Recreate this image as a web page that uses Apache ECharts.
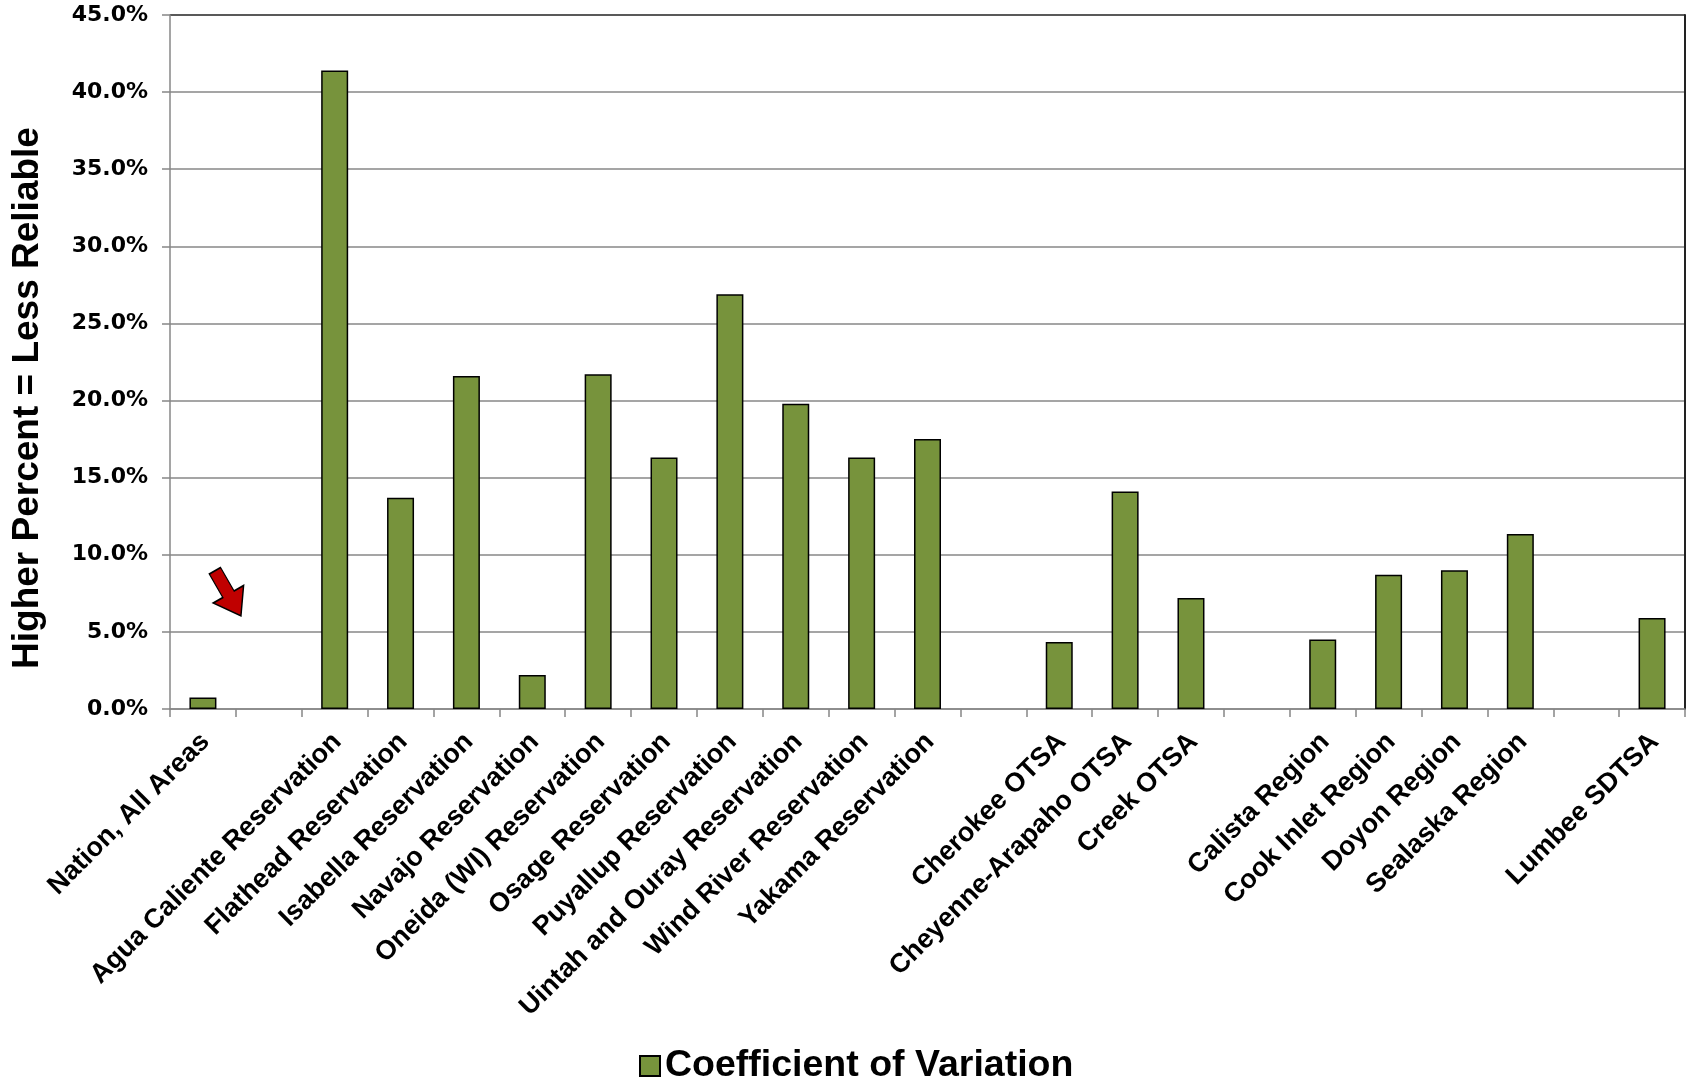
<!DOCTYPE html>
<html>
<head>
<meta charset="utf-8">
<title>Coefficient of Variation</title>
<script src="https://cdn.jsdelivr.net/npm/echarts@6/dist/echarts.min.js"></script>
<style>
  html, body { margin: 0; padding: 0; background: #ffffff; }
  #chart { width: 1690px; height: 1081px; }
</style>
</head>
<body>
<div id="chart"></div>
<script>
// Geographic areas; empty strings are spacer slots between area groups
const categories = [
  'Nation, All Areas', '',
  'Agua Caliente Reservation', 'Flathead Reservation', 'Isabella Reservation',
  'Navajo Reservation', 'Oneida (WI) Reservation', 'Osage Reservation',
  'Puyallup Reservation', 'Uintah and Ouray Reservation', 'Wind River Reservation',
  'Yakama Reservation', '',
  'Cherokee OTSA', 'Cheyenne-Arapaho OTSA', 'Creek OTSA', '',
  'Calista Region', 'Cook Inlet Region', 'Doyon Region', 'Sealaska Region', '',
  'Lumbee SDTSA'
];

// Coefficient of variation, in percent (null = spacer slot)
const cvValues = [
  0.75, null,
  41.4, 13.7, 21.6,
  2.2, 21.7, 16.3,
  26.9, 19.8, 16.3,
  17.5, null,
  4.35, 14.1, 7.2, null,
  4.5, 8.7, 9.0, 11.35, null,
  5.9
];

// Value axis range and tick step, in percent
const yMin = 0;
const yMax = 45;
const yStep = 5;

const seriesName = 'Coefficient of Variation';
const axisTitle = 'Higher Percent = Less Reliable';

const chart = echarts.init(document.getElementById('chart'), null, { renderer: 'canvas' });

const gridGray = '#878787';
const labelFont = 'Liberation Sans, Arial, sans-serif';

// split lines: the top one doubles as the dark frame of the plot area
const splitColors = [];
for (let v = yMin; v <= yMax; v += yStep) {
  splitColors.push(v === yMax ? '#222222' : gridGray);
}

chart.setOption({
  backgroundColor: '#ffffff',
  animation: false,
  grid: {
    left: 170,
    right: 5,
    top: 15,
    bottom: 372,
    containLabel: false,
    outerBoundsMode: 'none'
  },
  legend: {
    data: [seriesName],
    left: 634,
    top: 1042,
    icon: 'rect',
    itemWidth: 20,
    itemHeight: 20,
    itemGap: 10,
    textStyle: {
      fontFamily: labelFont,
      fontWeight: 'bold',
      fontSize: 37.5,
      color: '#000000'
    }
  },
  xAxis: {
    type: 'category',
    data: categories,
    boundaryGap: true,
    axisLine: { show: true, lineStyle: { color: gridGray, width: 1.5 } },
    axisTick: {
      show: true,
      alignWithLabel: false,
      interval: 0,
      length: 8,
      lineStyle: { color: gridGray, width: 1.5 }
    },
    axisLabel: {
      interval: 0,
      rotate: 45,
      align: 'right',
      verticalAlign: 'top',
      padding: [0, 10, 0, 0],
      margin: 12,
      fontFamily: labelFont,
      fontWeight: 'bold',
      fontSize: 27,
      color: '#000000'
    },
    splitLine: { show: false }
  },
  yAxis: [
    {
      type: 'value',
      min: yMin,
      max: yMax,
      interval: yStep,
      position: 'left',
      name: axisTitle,
      nameLocation: 'middle',
      nameGap: 124,
      nameRotate: 90,
      nameTextStyle: {
        fontFamily: labelFont,
        fontWeight: 'bold',
        fontSize: 37,
        color: '#000000',
        padding: [0, 72, 0, 0]
      },
      axisLine: { show: true, lineStyle: { color: gridGray, width: 1.5 } },
      axisTick: { show: true, length: 8, lineStyle: { color: gridGray, width: 1.5 } },
      axisLabel: {
        margin: 22,
        formatter: (v) => v.toFixed(1) + '%',
        fontFamily: 'DejaVu Sans, sans-serif',
        fontWeight: 'bold',
        fontSize: 22,
        color: '#000000'
      },
      splitLine: { show: true, lineStyle: { color: splitColors, width: 1.5 } }
    },
    {
      type: 'value',
      min: yMin,
      max: yMax,
      interval: yStep,
      position: 'right',
      axisLine: { show: true, lineStyle: { color: '#222222', width: 2 } },
      axisTick: { show: false },
      axisLabel: { show: false },
      splitLine: { show: false }
    }
  ],
  series: [
    {
      name: seriesName,
      type: 'bar',
      data: cvValues,
      barWidth: 27,
      itemStyle: {
        color: '#77933C',
        borderColor: '#000000',
        borderWidth: 1.5
      },
      emphasis: { disabled: true },
      markPoint: {
        silent: true,
        symbol: 'path://M11,0 L24,0 L24,27 L35,27 L17.5,52 L0,27 L11,27 Z',
        symbolSize: [35, 52],
        symbolRotate: 30,
        symbolKeepAspect: false,
        label: { show: false },
        itemStyle: { color: '#C00000', borderColor: '#000000', borderWidth: 1.5 },
        data: [
          { coord: [0, 7.5], symbolOffset: [25, 0] }
        ]
      }
    }
  ]
});
</script>
</body>
</html>
